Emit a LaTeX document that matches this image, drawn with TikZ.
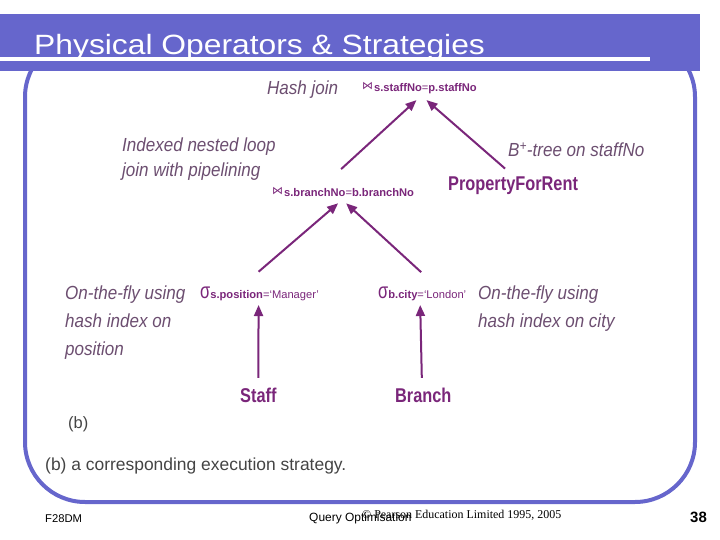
\documentclass[tikz,border=0pt]{standalone}
\usepackage{fontspec}
\setmainfont{Liberation Sans}
\newfontfamily\serifft{Liberation Serif}
\newfontfamily\symft{DejaVu Sans}
\usepackage{tikz}
\usetikzlibrary{arrows.meta, positioning}
\definecolor{slideblue}{RGB}{102,102,204}
\definecolor{mypurple}{RGB}{122,38,122}
\definecolor{notegray}{RGB}{108,78,112}
\definecolor{capgray}{RGB}{68,68,68}
\tikzset{
  note/.style={anchor=base west, inner sep=0pt, align=left, text=notegray,
    font=\fontsize{19}{28}\selectfont\itshape, xscale=0.9},
  relname/.style={anchor=base west, inner sep=0pt, text=mypurple,
    font=\fontsize{20}{24}\selectfont\bfseries, xscale=0.82},
  opnode/.style={anchor=base west, inner sep=0pt, text=mypurple,
    font=\fontsize{11.2}{13}\selectfont},
  flow/.style={-{Triangle[length=11bp,width=9bp]}, line width=2bp, color=mypurple},
  foot/.style={anchor=base west, inner sep=0pt, font=\fontsize{12}{14}\selectfont}
}
\newcommand{\joinsym}{\raisebox{2.5bp}{\symft\fontsize{11}{11}\selectfont ⋈}\kern1bp}
\newcommand{\selsym}{\scalebox{0.75}[1]{\fontsize{22}{22}\selectfont σ}}

\begin{document}
\begin{tikzpicture}[x=1bp, y=-1bp]
  \useasboundingbox (0,0) rectangle (720,540);

  % Slide frame and title bar
  \draw[slideblue, line width=4bp, rounded corners=60bp] (25,37) rectangle (695,502);
  \fill[slideblue] (0,14) rectangle (700,71);
  \fill[white] (0,57.5) rectangle (650,61);
  \node[anchor=base west, inner sep=0pt, text=white, font=\fontsize{28}{30}\selectfont,
    xscale=1.14] (title) at (34,55) {Physical Operators \& Strategies};

  % Operators
  \node[opnode] (hj) at (362,92) {\joinsym{\bfseries s.staffNo}={\bfseries p.staffNo}};
  \node[opnode] (bj) at (272,197) {\joinsym{\bfseries s.branchNo}={\bfseries b.branchNo}};
  \node[opnode] (sel1) at (200,298.5) {\selsym{\bfseries s.position}=`Manager'};
  \node[opnode] (sel2) at (378,298) {\selsym{\bfseries b.city}=`London'};

  % Relations
  \node[relname] (pfr) at (448,191) {PropertyForRent};
  \node[relname] (staff) at (240,402) {Staff};
  \node[relname] (branch) at (395,402) {Branch};

  % Notes on the strategy (base = last line)
  \node[note] (hashnote) at (267,95) {Hash join};
  \node[note, font=\fontsize{19}{25}\selectfont\itshape] (inlnote) at (122,176.7)
    {Indexed nested loop\\join with pipelining};
  \node[note] (btnote) at (508,157) {B\textsuperscript{+}-tree on staffNo};
  \node[note] (fly1) at (65,355) {On-the-fly using\\hash index on\\position};
  \node[note] (fly2) at (478,327) {On-the-fly using\\hash index on city};

  % Arrows
  \draw[flow] ([xshift=-2bp,yshift=18bp]bj.north) -- ([xshift=-3bp,yshift=-5.6bp]hj.south);
  \draw[flow] ([xshift=-8bp,yshift=8.5bp]pfr.north) -- ([xshift=7bp,yshift=-5.6bp]hj.south);
  \draw[flow] ([xshift=-1bp,yshift=15bp]sel1.north) -- ([xshift=-5bp,yshift=-6bp]bj.south);
  \draw[flow] ([xshift=-1bp,yshift=14bp]sel2.north) -- ([xshift=3bp,yshift=-6bp]bj.south);
  \draw[flow] ([yshift=9.5bp]staff.north) -- ([xshift=-1bp,yshift=-4bp]sel1.south);
  \draw[flow] ([xshift=-1.5bp,yshift=9.5bp]branch.north) -- ([xshift=-2bp,yshift=-4.5bp]sel2.south);

  % Captions
  \node[anchor=base west, inner sep=0pt, text=capgray, font=\fontsize{16.5}{18}\selectfont]
    (bnote) at (68,428) {(b)};
  \node[anchor=base west, inner sep=0pt, text=capgray, font=\fontsize{17.5}{20}\selectfont]
    (caption) at (45,470) {(b) a corresponding execution strategy.};

  % Footer
  \node[foot, font=\fontsize{11.3}{13}\selectfont] (course) at (45,522) {F28DM};
  \node[foot] (topic) at (309,521) {Query Optimisation};
  \node[foot, font=\serifft\fontsize{12}{14}\selectfont] (copy) at (362,518)
    {© Pearson Education Limited 1995, 2005};
  \node[foot, font=\fontsize{15}{16}\selectfont\bfseries] (page) at (690,522) {38};
\end{tikzpicture}
\end{document}
